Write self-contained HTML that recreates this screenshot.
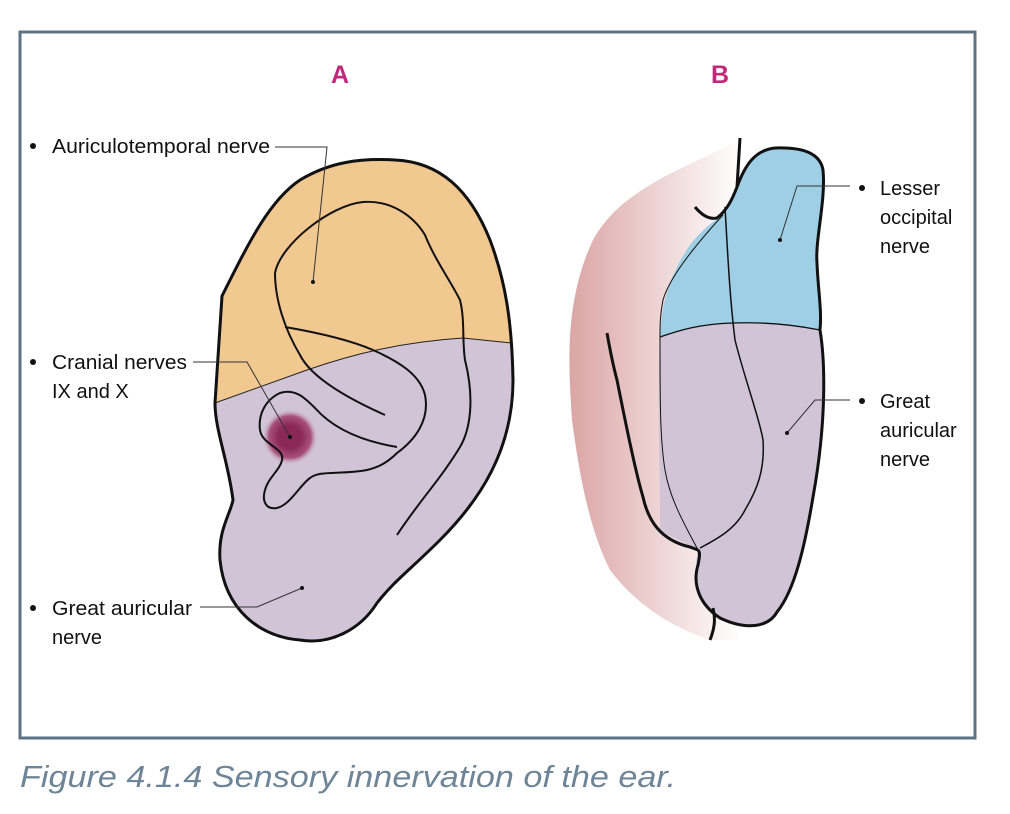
<!DOCTYPE html>
<html><head><meta charset="utf-8"><style>
body{margin:0;background:#fff;width:1010px;height:814px;overflow:hidden}
svg{display:block}
text{font-family:"Liberation Sans",sans-serif}
</style></head><body>
<svg width="1010" height="814" viewBox="0 0 1010 814">
<defs>
<radialGradient id="dot"><stop offset="0.4" stop-color="#8a2858"/><stop offset="0.75" stop-color="#a8507a"/><stop offset="1" stop-color="#d1c4d6" stop-opacity="0"/></radialGradient>
<linearGradient id="pink" x1="0" x2="1" y1="0" y2="0"><stop offset="0" stop-color="#dba5a5"/><stop offset="1" stop-color="#fff"/></linearGradient>
<clipPath id="upA"><path d="M0,0 H1010 V338 L512,343 L463,338 C400,342 350,355 307,370 L215,403 L0,403 Z"/></clipPath>
<clipPath id="upB"><path d="M600,0 H900 V330 L820,330 C790,324 760,322 733,323 C700,324 680,330 660,337 L600,337 Z"/></clipPath>
</defs>
<rect x="20" y="32" width="955" height="706" fill="none" stroke="#5d7383" stroke-width="3"/>
<text x="340" y="83" text-anchor="middle" font-size="25" font-weight="bold" fill="#c0297a">A</text>
<text x="720" y="83" text-anchor="middle" font-size="25" font-weight="bold" fill="#c0297a">B</text>

<path d="M222,296 C250,240 270,200 300,180 C330,162 360,158 395,160 C440,162 470,190 490,240 C505,280 512,320 513,380 C513,450 480,500 440,540 C410,570 395,580 377,603 C360,630 330,645 300,640 C260,637 225,610 220,560 C218,530 230,515 233,500 C228,460 215,430 215,403 Z" fill="#d1c4d6"/>
<path d="M222,296 C250,240 270,200 300,180 C330,162 360,158 395,160 C440,162 470,190 490,240 C505,280 512,320 513,380 C513,450 480,500 440,540 C410,570 395,580 377,603 C360,630 330,645 300,640 C260,637 225,610 220,560 C218,530 230,515 233,500 C228,460 215,430 215,403 Z" fill="#f0c890" clip-path="url(#upA)"/>
<path d="M215,403 L307,370 C350,355 400,342 463,338 L512,343" fill="none" stroke="#222" stroke-width="1"/>
<circle cx="290" cy="437" r="28" fill="url(#dot)"/>
<g fill="none" stroke="#111" stroke-width="2">
<path d="M222,296 C250,240 270,200 300,180 C330,162 360,158 395,160 C440,162 470,190 490,240 C505,280 512,320 513,380 C513,450 480,500 440,540 C410,570 395,580 377,603 C360,630 330,645 300,640 C260,637 225,610 220,560 C218,530 230,515 233,500 C228,460 215,430 215,403 Z" stroke-width="3"/>
<path d="M385,415 C340,395 310,375 300,355 C285,330 275,300 275,273 C280,245 330,205 363,202 C390,200 413,215 425,235 C435,260 450,280 460,300 C465,320 462,340 465,360 C475,400 470,430 460,447 C440,480 420,500 397,535"/>
<path d="M285,327 C320,333 350,340 373,350 C400,362 420,375 425,395 C430,420 415,440 397,453 C385,465 375,468 367,470 C340,475 320,470 310,478 C300,485 290,505 277,508 C265,510 262,500 265,490 C268,478 280,470 282,460 C285,448 262,445 260,430 C258,415 265,400 280,393 C295,388 305,398 315,408 C330,425 355,440 397,447"/>
</g>

<path d="M740,140 C680,170 620,190 593,240 C565,300 568,360 572,420 C580,480 590,530 610,570 C640,610 680,630 710,640 L740,640 L740,140 Z" fill="url(#pink)"/>
<path d="M737,187 C745,165 755,150 775,148 C800,147 820,152 823,170 C826,200 815,240 817,263 C818,290 822,310 820,330 C825,360 827,420 813,497 C805,545 795,590 777,612 C768,628 745,630 720,618 C700,605 692,580 698,550 C690,545 670,537 660,530 C660,460 657,400 660,337 C662,300 670,275 690,245 C700,232 712,222 723,215 Z" fill="#d1c4d6"/>
<path d="M737,187 C745,165 755,150 775,148 C800,147 820,152 823,170 C826,200 815,240 817,263 C818,290 822,310 820,330 C825,360 827,420 813,497 C805,545 795,590 777,612 C768,628 745,630 720,618 C700,605 692,580 698,550 C690,545 670,537 660,530 C660,460 657,400 660,337 C662,300 670,275 690,245 C700,232 712,222 723,215 Z" fill="#9ecfe5" clip-path="url(#upB)"/>
<g fill="none" stroke="#111">
<path d="M660,337 C680,330 700,324 733,323 C760,322 790,324 820,330" stroke-width="1.3"/>
<path d="M723,215 C700,240 670,275 663,300 C660,315 660,325 660,337 C660,400 660,440 665,470 C670,500 685,525 698,550" stroke-width="1"/>
<path d="M725,207 C728,260 730,300 735,340 C745,380 760,420 763,440 C765,470 757,490 745,510 C735,530 715,540 700,548" stroke-width="1.5"/>
<path d="M737,187 C745,165 755,150 775,148 C800,147 820,152 823,170 C826,200 815,240 817,263 C818,290 822,310 820,330 C825,360 827,420 813,497 C805,545 795,590 777,612 C768,628 745,630 720,618 C700,605 692,585 698,565 C700,555 700,552 698,550" stroke-width="3"/>
<path d="M740,138 L737,187 C732,200 727,210 717,218 C708,220 700,213 695,207" stroke-width="3"/>
<path d="M607,333 C610,350 613,365 617,380 C625,420 635,470 643,497 C648,520 660,540 690,547 L698,550" stroke-width="3"/>
<path d="M713,608 C716,620 714,630 710,640" stroke-width="3"/>
</g>

<g fill="none" stroke="#333" stroke-width="1">
<path d="M275,147 H327 L313,282"/>
<path d="M193,362 H247 L290,437"/>
<path d="M200,607 H257 L302,588"/>
<path d="M850,186 H797 L780,240"/>
<path d="M850,400 H815 L787,433"/>
</g>
<g fill="#111">
<circle cx="313" cy="282" r="2"/><circle cx="290" cy="437" r="2"/><circle cx="302" cy="588" r="2"/>
<circle cx="780" cy="240" r="2"/><circle cx="787" cy="433" r="2"/>
<circle cx="33" cy="146" r="3"/><circle cx="33" cy="362" r="3"/><circle cx="33" cy="608" r="3"/>
<circle cx="862" cy="188" r="3"/><circle cx="862" cy="401" r="3"/>
</g>
<g font-size="20" fill="#111">
<text x="52" y="153" textLength="218" lengthAdjust="spacingAndGlyphs">Auriculotemporal nerve</text>
<text x="52" y="369" textLength="135" lengthAdjust="spacingAndGlyphs">Cranial nerves</text>
<text x="52" y="398">IX and X</text>
<text x="52" y="615" textLength="140" lengthAdjust="spacingAndGlyphs">Great auricular</text>
<text x="52" y="644">nerve</text>
<text x="880" y="195">Lesser</text>
<text x="880" y="224">occipital</text>
<text x="880" y="253">nerve</text>
<text x="880" y="408">Great</text>
<text x="880" y="437">auricular</text>
<text x="880" y="466">nerve</text>
</g>
<text x="20" y="787" font-size="31" font-style="italic" fill="#6d8596" textLength="656" lengthAdjust="spacingAndGlyphs">Figure 4.1.4 Sensory innervation of the ear.</text>
</svg>
</body></html>
